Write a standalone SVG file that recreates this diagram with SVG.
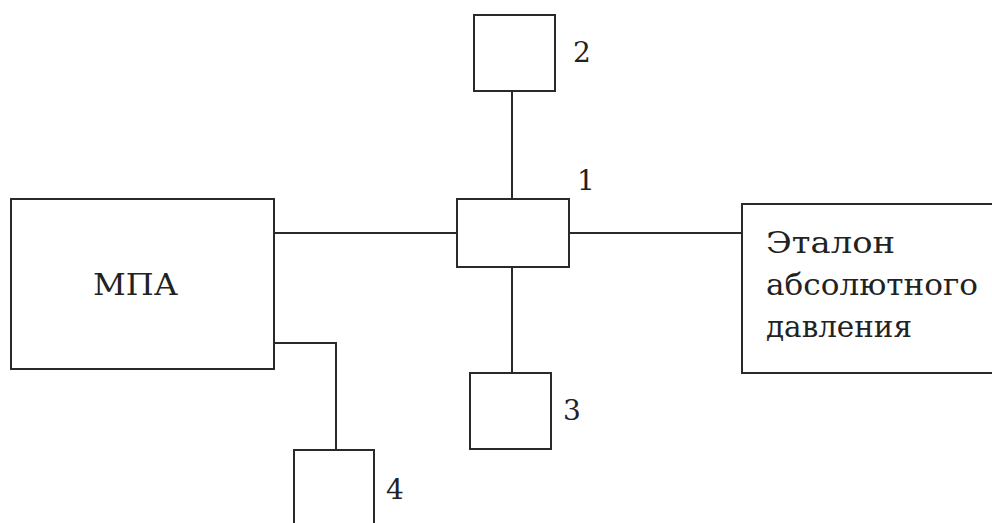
<svg xmlns="http://www.w3.org/2000/svg" width="992" height="523" viewBox="0 0 992 523">
<style>
.box{fill:#fff;stroke:#2a2a2a;stroke-width:2}
.ln{fill:none;stroke:#2a2a2a;stroke-width:2}
text{font-family:'DejaVu Serif','Liberation Serif',serif;fill:#222}
</style>
<rect width="992" height="523" fill="#fff"/>
<g id="connectors">
<path class="ln" d="M274 233H457"/>
<path class="ln" d="M569 233H742"/>
<path class="ln" d="M512 91V199"/>
<path class="ln" d="M512 267V373"/>
<path class="ln" d="M274 343H336V450"/>
</g>
<g id="mpa">
<rect class="box" x="11" y="199" width="263" height="170"/>
<text x="93" y="295" font-size="30" textLength="85" lengthAdjust="spacingAndGlyphs">МПА</text>
</g>
<g id="node1">
<rect class="box" x="457" y="199" width="112" height="68"/>
<text x="577" y="190" font-size="28">1</text>
</g>
<g id="node2">
<rect class="box" x="474" y="15" width="81" height="76"/>
<text x="573" y="62" font-size="28">2</text>
</g>
<g id="node3">
<rect class="box" x="470" y="373" width="81" height="76"/>
<text x="563" y="420" font-size="28">3</text>
</g>
<g id="node4">
<rect class="box" x="294" y="450" width="80" height="80"/>
<text x="386" y="499" font-size="28">4</text>
</g>
<g id="etalon">
<path class="box" d="M995 204H742V373H995"/>
<text font-size="29">
<tspan x="766" y="253" textLength="129" lengthAdjust="spacingAndGlyphs">Эталон</tspan>
<tspan x="766" y="295" textLength="212" lengthAdjust="spacingAndGlyphs">абсолютного</tspan>
<tspan x="766" y="337" textLength="146" lengthAdjust="spacingAndGlyphs">давления</tspan>
</text>
</g>
</svg>
